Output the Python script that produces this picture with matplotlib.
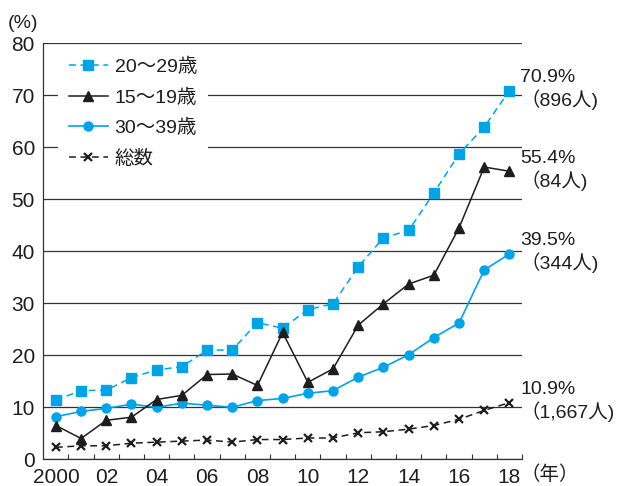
import matplotlib
matplotlib.use("Agg")
import matplotlib.pyplot as plt
import numpy as np

plt.rcParams['font.family'] = ['Liberation Sans', 'Noto Sans CJK JP', 'DejaVu Sans']

years = list(range(2000, 2019))
age20_29 = [11.4, 13.2, 13.3, 15.7, 17.2, 17.8, 21.0, 21.0, 26.3, 25.2, 28.8, 29.9, 37.0, 42.6, 44.0, 51.2, 58.7, 63.9, 70.9]
age15_19 = [6.5, 4.0, 7.5, 8.1, 11.5, 12.3, 16.3, 16.4, 14.2, 24.4, 14.8, 17.4, 25.8, 29.9, 33.7, 35.4, 44.5, 56.2, 55.4]
age30_39 = [8.2, 9.2, 9.8, 10.6, 10.0, 10.8, 10.4, 10.0, 11.3, 11.7, 12.7, 13.2, 15.8, 17.7, 20.1, 23.4, 26.2, 36.4, 39.5]
total = [2.3, 2.6, 2.6, 3.1, 3.3, 3.5, 3.7, 3.3, 3.8, 3.8, 4.1, 4.1, 5.1, 5.3, 5.8, 6.5, 7.7, 9.4, 10.9]

series_labels = ['20～29歳', '15～19歳', '30～39歳', '総数']
end_labels = [('70.9%', '（896人)'), ('55.4%', '（84人)'), ('39.5%', '（344人)'), ('10.9%', '（1,667人)')]
xtick_years = list(range(2000, 2019, 2))
xtick_labels = ['2000'] + [f'{y % 100:02d}' for y in xtick_years[1:]]
yticks = list(range(0, 81, 10))

CYAN = '#00A3E4'
DARK = '#1e1e1e'
fig = plt.figure(figsize=(6.17, 4.86), dpi=100)
L, R, B, T = 43.3, 522, 459.3, 43.3
ax = fig.add_axes([L/617, 1-B/486, (R-L)/617, (B-T)/486])

ax.plot(years, age20_29, color=CYAN, lw=1.1, ls=(0, (4.5, 3)), marker='s', ms=7.2,
        mfc=CYAN, mec=CYAN, label=series_labels[0], zorder=4)
ax.plot(years, age15_19, color=DARK, lw=1.1, marker='^', ms=7.8,
        mfc=DARK, mec=DARK, label=series_labels[1], zorder=5)
ax.plot(years, age30_39, color=CYAN, lw=1.2, marker='o', ms=6.5,
        mfc=CYAN, mec=CYAN, label=series_labels[2], zorder=4)
ax.plot(years, total, color=DARK, lw=1.1, ls=(0, (4.5, 3)), marker='x', ms=5.8,
        mew=1.6, label=series_labels[3], zorder=4)

ax.set_xlim(1999.5, 2018.5)
ax.set_ylim(0, 80)
ax.set_yticks(yticks)
ax.set_yticklabels([str(v) for v in yticks], fontsize=15, color=DARK)
ax.set_xticks(xtick_years)
ax.set_xticklabels(xtick_labels, fontsize=15, color=DARK)
ax.tick_params(axis='y', which='major', length=0, pad=6)
ax.tick_params(axis='x', which='major', length=0, pad=6)
ax.set_xticks(np.arange(2000.5, 2018.6, 1), minor=True)
ax.tick_params(axis='x', which='minor', direction='in', length=3.5, width=0.8, color='#333333')
ax.grid(axis='y', color='#333333', lw=0.9, zorder=1)
ax.set_axisbelow(True)
for s in ['top', 'right']:
    ax.spines[s].set_visible(False)
for s in ['left', 'bottom']:
    ax.spines[s].set_color('#333333')
    ax.spines[s].set_linewidth(0.9)

leg = ax.legend(loc='upper left', bbox_to_anchor=(58/617, 1-47/486),
                bbox_transform=fig.transFigure, fontsize=14,
                frameon=True, facecolor='white', edgecolor='none', framealpha=1,
                handlelength=2.0, labelspacing=0.64, borderpad=0.55, handletextpad=0.36,
                borderaxespad=0)
leg.set_zorder(6)
for t in leg.get_texts():
    t.set_color(DARK)

finals = [age20_29[-1], age15_19[-1], age30_39[-1], total[-1]]
for (pct, cnt), v in zip(end_labels, finals):
    ax.annotate(pct, xy=(years[-1], v), xytext=(7.7, 9.5), textcoords='offset points',
                fontsize=14, color=DARK, ha='left', va='center', annotation_clip=False)
    ax.annotate(cnt, xy=(years[-1], v), xytext=(7.7, -6.5), textcoords='offset points',
                fontsize=14, color=DARK, ha='left', va='center', annotation_clip=False)

fig.text(8/617, 1-23/486, '(%)', fontsize=14, color=DARK, ha='left', va='center')
fig.text(521/617, 1-475/486, '（年）', fontsize=14, color=DARK, ha='left', va='center')

fig.savefig('out.png', dpi=100)
